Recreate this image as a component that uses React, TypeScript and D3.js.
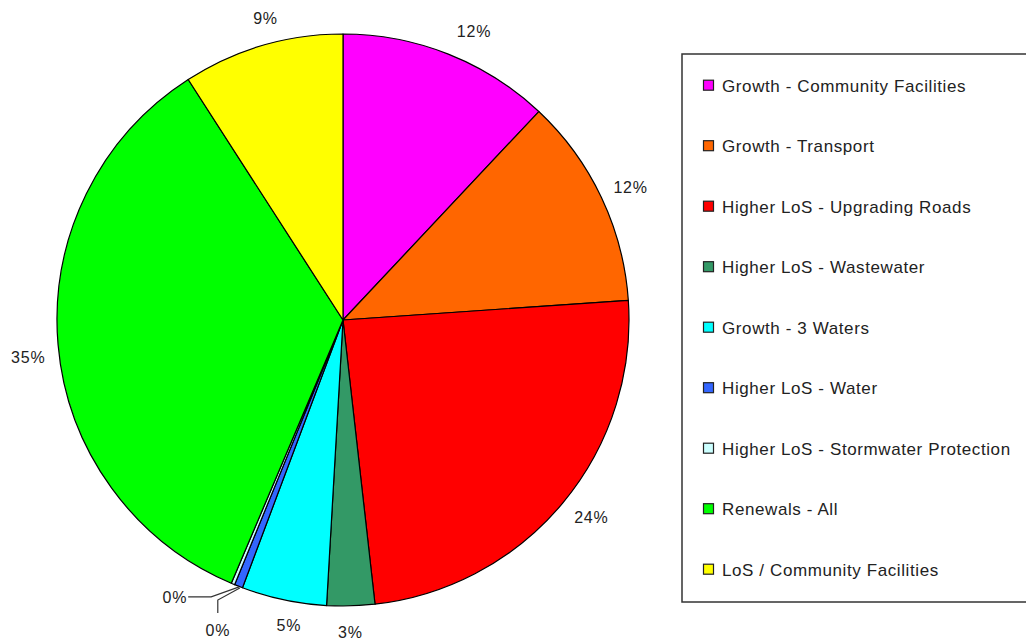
import React from "react";
import * as d3 from "d3";

const categories = [
  "Growth - Community Facilities",
  "Growth - Transport",
  "Higher LoS - Upgrading Roads",
  "Higher LoS - Wastewater",
  "Growth - 3 Waters",
  "Higher LoS - Water",
  "Higher LoS - Stormwater Protection",
  "Renewals - All",
  "LoS / Community Facilities",
];
const values = [12.0, 11.9, 24.3, 2.7, 4.8, 0.47, 0.2, 34.5, 9.1];
const colors = [
  "#FF00FF",
  "#FF6600",
  "#FF0000",
  "#339966",
  "#00FFFF",
  "#3366FF",
  "#CCFFFF",
  "#00FF00",
  "#FFFF00",
];

// label placement tweaks (degrees of rotation, extra radius in px)
const labelAngleNudge = [2.8, 0.5, -1.4, 0.2, -1.9, 0, 0, -1.9, 2.0];
const labelRadiusPad = [31, 31, 31, 26, 24, 0, 0, 31, 26];

const W = 1026;
const H = 640;
const cx = 343;
const cy = 320;
const R = 286;
const FONT = "'Liberation Sans', Arial, sans-serif";
const TEXT = "#222";

export default function App() {
  const total = d3.sum(values);
  const pie = d3.pie<number>().sort(null).value((d) => d);
  const arcs = pie(values);
  const arc = d3.arc<d3.PieArcDatum<number>>().innerRadius(0).outerRadius(R);
  const polar = (a: number, r: number): [number, number] => [
    Math.sin(a) * r,
    -Math.cos(a) * r,
  ];

  const labels = arcs.map((a, i) => {
    const mid = (a.startAngle + a.endAngle) / 2;
    const pct = Math.round((a.value / total) * 100) + "%";
    if (i === 5) {
      const p = polar(mid, R + 2);
      const s: [number, number] = [p[0] + 2, p[1]];
      const e: [number, number] = [s[0] - 22, s[1] + 12];
      const f: [number, number] = [e[0], e[1] + 13];
      return { pct, x: f[0], y: f[1] + 17, anchor: "middle", line: [s, e, f] };
    }
    if (i === 6) {
      const p = polar(mid, R + 2);
      const s: [number, number] = [p[0] + 7, p[1] + 1];
      const e: [number, number] = [s[0] - 28, s[1] + 10];
      const f: [number, number] = [e[0] - 23, e[1]];
      return { pct, x: f[0] - 1, y: f[1], anchor: "end", line: [s, e, f] };
    }
    const ang = mid + (labelAngleNudge[i] * Math.PI) / 180;
    const [x, y] = polar(ang, R + labelRadiusPad[i]);
    return { pct, x, y, anchor: "middle", line: null as null | [number, number][] };
  });

  const legendX = 682;
  const legendY = 54;
  const rowY0 = 85.7;
  const rowStep = 60.5;

  return (
    <svg
      width={W}
      height={H}
      style={{ position: "absolute", left: 0, top: 0, background: "#fff" }}
    >
      <g transform={`translate(${cx},${cy})`}>
        {arcs.map((a, i) => (
          <path
            key={i}
            d={arc(a) || ""}
            fill={colors[i]}
            stroke="#000"
            strokeWidth={1.2}
            strokeLinejoin="round"
          />
        ))}
        {labels.map((l, i) => (
          <g key={i}>
            {l.line && (
              <polyline
                points={l.line.map((p) => p.join(",")).join(" ")}
                fill="none"
                stroke="#333"
                strokeWidth={1.2}
              />
            )}
            <text
              x={l.x}
              y={l.y}
              dy="0.36em"
              textAnchor={l.anchor as any}
              fontFamily={FONT}
              fontSize={16}
              letterSpacing={0.8}
              fill={TEXT}
            >
              {l.pct}
            </text>
          </g>
        ))}
      </g>
      <rect
        x={legendX}
        y={legendY}
        width={W - legendX + 10}
        height={548}
        fill="#fff"
        stroke="#333"
        strokeWidth={1.5}
      />
      {categories.map((c, i) => {
        const y = rowY0 + i * rowStep;
        return (
          <g key={c}>
            <rect
              x={703.5}
              y={y - 5.5}
              width={10}
              height={10}
              fill={colors[i]}
              stroke="#222"
              strokeWidth={1.2}
            />
            <text
              x={722}
              y={y}
              dy="0.36em"
              fontFamily={FONT}
              fontSize={17}
              letterSpacing={0.6}
              fill={TEXT}
            >
              {c}
            </text>
          </g>
        );
      })}
    </svg>
  );
}
